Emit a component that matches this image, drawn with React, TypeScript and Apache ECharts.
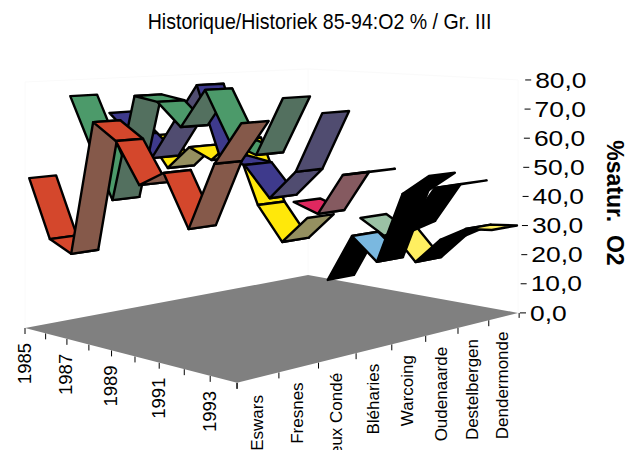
import React, { useEffect, useRef } from "react";
import * as echarts from "echarts";

const years = [1985, 1986, 1987, 1988, 1989, 1990, 1991, 1992, 1993, 1994];
const yearLabels = ["1985", "", "1987", "", "1989", "", "1991", "", "1993", ""];
const stations = ["Eswars", "Fresnes", "Vieux Condé", "Bléharies", "Warcoing", "Oudenaarde", "Destelbergen", "Dendermonde"];
const yTicks = [0, 10, 20, 30, 40, 50, 60, 70, 80];

const eswars = [48.6, 30.0, 26.6, 68.9, 63.8, 51.3, 55.9, 40.5, 60.4, 72.7];
const fresnes = [74.6, 58.1, 42.0, 76.3, 75.0, 67.8, 79.8, 64.5, 61.7, 79.0];
const vieuxConde = [68.1, 61.3, 54.4, 67.1, 79.6, 57.0, 55.7, 46.4, 55.4, 73.8];
const bleharies = [59.2, 48.9, 56.9, 53.4, 60.9, 40.5, 29.8, 38.6, null, null];
const warcoing = [null, null, null, null, null, 39.9, 37.1, 50.8, 52.7, null];
const oudenaarde = [null, null, null, null, null, 11.8, 28.0, 20.7, 44.2, 51.0];
const destelbergen = [null, null, null, null, null, 31.2, 26.2, 31.1, 44.7, 47.0];
const dendermonde = [null, null, null, null, null, 24.5, 15.2, 24.2, 29.2, 30.1];

const allValues = [eswars, fresnes, vieuxConde, bleharies, warcoing, oudenaarde, destelbergen, dendermonde];
const fallColors = ["#D4472C", "#4C9A6A", "#3E3A8C", "#FFE80A", "#E0285F", "#7AB8E0", "#9BC2A5", "#FFEF60"];
const riseColors = ["#85594A", "#53705F", "#504C70", "#959060", "#855A60", "#000000", "#000000", "#000000"];

const RIBBON_NEAR = 0.1;
const ribbonFar = (j: number) => 0.75 + 0.03 * j;

// Perspective projection of the 3D box: u = year index (0..9), v = station index (0..8), h = value.
function project(u: number, v: number, h: number): [number, number] {
  const U = u / 9;
  const V = v / 8;
  const w = 1 - 0.1377 * U + 0.1938 * V;
  return [(25 + 179.4 * U + 342.8 * V) / w, (328 + 2.1 * U + 0.35 * V - 3.075 * h) / w];
}

const font = "'Liberation Sans', Arial, sans-serif";

function buildGraphic() {
  const els: any[] = [];
  const tick = (x1: number, y1: number, x2: number, y2: number) =>
    els.push({ type: "line", shape: { x1, y1, x2, y2 }, style: { stroke: "#000", lineWidth: 1 } });

  years.forEach((_, i) => {
    const [x, y] = project(i, 0, 0);
    tick(x, y, x, y + 6);
    if (yearLabels[i]) {
      els.push({
        type: "text", x: x - 1, y: y + 15, rotation: Math.PI / 2,
        style: { text: yearLabels[i], font: `18.5px ${font}`, fill: "#000", align: "right", verticalAlign: "middle" },
      });
    }
  });
  for (let j = 0; j < stations.length; j++) {
    const [x, y] = project(9, j, 0);
    tick(x, y, x, y + 6);
  }
  stations.forEach((name, j) => {
    const [x, y] = project(9, j + 0.5, 0);
    els.push({
      type: "text", x: x - 1, y: y + (j === 0 ? 17.5 : 15), rotation: Math.PI / 2,
      style: { text: name, font: `17px ${font}`, fill: "#000", align: "right", verticalAlign: "middle" },
    });
  });
  yTicks.forEach((t) => {
    const [, y] = project(9, 8, t);
    const x0 = 520 + t * 0.065;
    tick(x0, y, x0 + 6, y);
    els.push({
      type: "text", x: x0 + 10, y, scaleX: 1.2,
      style: { text: t.toFixed(1).replace(".", ","), font: `22px ${font}`, fill: "#000", align: "left", verticalAlign: "middle" },
    });
  });
  const [cx0, cy0] = project(9, 8, 0);
  tick(cx0 + 1, cy0, cx0 + 1, cy0 + 5);
  els.push({
    type: "text", x: 615, y: 203, rotation: -Math.PI / 2,
    style: { text: "%satur.  O2", font: `bold 23px ${font}`, lineHeight: 20, fill: "#000", align: "center", verticalAlign: "middle" },
  });
  els.push({
    type: "text", x: 319.5, y: 21, scaleX: 0.89,
    style: { text: "Historique/Historiek 85-94:O2 % / Gr. III", font: `22px ${font}`, fill: "#000", align: "center", verticalAlign: "middle" },
  });
  return els;
}

function ribbonSeries(j: number) {
  const vals = allValues[j];
  const data: number[][] = [];
  for (let i = 0; i < vals.length - 1; i++) {
    if (vals[i] != null && vals[i + 1] != null) data.push([i, vals[i] as number, vals[i + 1] as number]);
  }
  return {
    type: "custom",
    name: stations[j],
    coordinateSystem: "none",
    silent: true,
    clip: false,
    data,
    renderItem: (_: any, api: any) => {
      const i = api.value(0);
      const a = api.value(1);
      const b = api.value(2);
      const p1 = project(i, j + RIBBON_NEAR, a);
      const p2 = project(i, j + ribbonFar(j), a);
      const p3 = project(i + 1, j + ribbonFar(j), b);
      const p4 = project(i + 1, j + RIBBON_NEAR, b);
      const falling = p4[1] >= p1[1];
      return {
        type: "polygon",
        shape: { points: [p1, p2, p3, p4] },
        style: {
          fill: falling ? fallColors[j] : riseColors[j],
          stroke: "#000",
          lineWidth: 2.4,
          lineJoin: "round",
        },
      };
    },
  };
}

const wallSeries = {
  type: "custom",
  coordinateSystem: "none",
  silent: true,
  data: [[0]],
  renderItem: () => ({
    type: "group",
    children: [
      {
        type: "polyline",
        shape: { points: [project(0, 0, 0), project(0, 0, 80), project(0, 8, 80), project(0, 8, 0)] },
        style: { stroke: "#FAFAFA", lineWidth: 1, fill: "none" },
      },
      {
        type: "polyline",
        shape: { points: [project(0, 8, 80), project(9, 8, 80), project(9, 8, 0)] },
        style: { stroke: "#FAFAFA", lineWidth: 1, fill: "none" },
      },
      {
        type: "polygon",
        shape: { points: [project(0, 0, 0), project(9, 0, 0), project(9, 8, 0), project(0, 8, 0)] },
        style: { fill: "#808080" },
      },
    ],
  }),
};

export default function App() {
  const ref = useRef<HTMLDivElement>(null);
  useEffect(() => {
    const chart = echarts.init(ref.current!, undefined, { renderer: "svg" });
    const order = [7, 6, 5, 4, 3, 2, 1, 0];
    chart.setOption({
      animation: false,
      backgroundColor: "#fff",
      graphic: { elements: buildGraphic() },
      series: [wallSeries, ...order.map(ribbonSeries)],
    });
    return () => chart.dispose();
  }, []);
  return <div ref={ref} style={{ position: "fixed", left: 0, top: 0, width: 627, height: 450 }} />;
}
